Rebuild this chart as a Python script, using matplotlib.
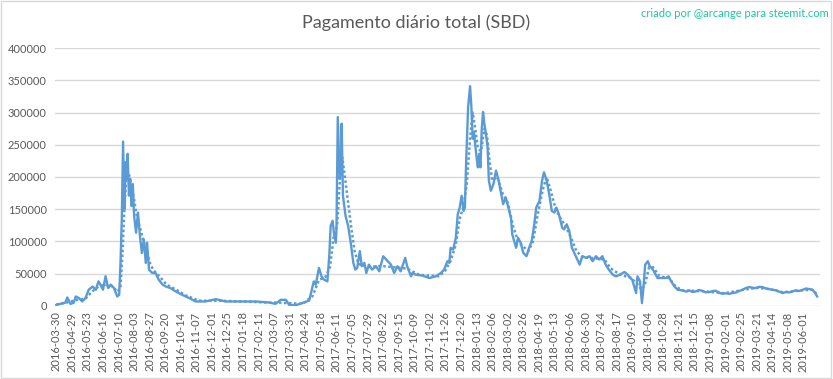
import numpy as np
import matplotlib.pyplot as plt
from matplotlib.patches import Rectangle
import datetime as dt

# Eixo de categorias: um rotulo a cada 24 dias
tick_labels = []
d0 = dt.date(2016, 4, 29)
tick_labels.append("2016-03-30")
for k in range(48):
    tick_labels.append((d0 + dt.timedelta(days=24 * k)).isoformat())
tick_pos = [24 * k for k in range(len(tick_labels))]

# Pagamento diario
dia = [0, 14, 17, 22, 27, 30, 35, 40, 45, 50, 56, 61, 65, 68, 72, 76, 80, 84, 89, 94,
       97, 99, 101, 103, 105, 107, 109, 110, 112, 114, 116, 118, 120, 123, 126, 129, 132, 135, 138, 140,
       143, 148, 153, 158, 164, 169, 176, 184, 194, 205, 215, 230, 246, 261, 282, 308, 328, 338, 346, 354,
       359, 369, 379, 390, 394, 397, 400, 405, 409, 413, 418, 421, 423, 426, 428, 431, 432, 434, 437, 439,
       440, 442, 446, 450, 454, 458, 461, 464, 468, 471, 475, 478, 482, 487, 493, 498, 504, 511, 516, 521,
       526, 531, 538, 541, 547, 549, 554, 565, 575, 585, 593, 598, 603, 606, 608, 612, 616, 619, 622, 625,
       628, 630, 632, 635, 638, 640, 642, 644, 646, 648, 650, 652, 654, 656, 658, 660, 662, 665, 667, 670,
       674, 678, 682, 685, 689, 693, 697, 701, 703, 706, 709, 712, 716, 720, 725, 729, 733, 737, 740, 745,
       749, 752, 756, 760, 764, 768, 771, 775, 780, 783, 787, 791, 795, 801, 807, 811, 817, 822, 827, 832,
       837, 842, 847, 852, 858, 863, 869, 876, 881, 885, 888, 894, 896, 900, 903, 905, 908, 912, 915, 920,
       927, 932, 940, 944, 948, 953, 958, 966, 971, 976, 981, 986, 991, 996, 1001, 1007, 1012, 1017, 1022, 1027,
       1032, 1038, 1043, 1048, 1053, 1058, 1063, 1068, 1074, 1079, 1084, 1089, 1094, 1099, 1104, 1110, 1115, 1120, 1125, 1130,
       1135, 1140, 1145, 1151, 1156, 1161, 1166, 1170, 1173]
pagamento = [1500, 5000, 13000, 3000, 5000, 14600, 12000, 6800, 12000, 25000, 30000, 25000, 38000, 33000, 25000, 46000, 27600, 33000, 27600, 14600,
             17000, 66000, 134000, 255000, 150000, 223000, 197000, 236000, 171000, 197000, 155000, 189000, 139600, 113500, 144800, 108000, 82000, 103000, 66600, 98000,
             56000, 51000, 51000, 40600, 32800, 30000, 27600, 22400, 17200, 12000, 6800, 6800, 10400, 6800, 6800, 6800, 5200, 3100, 9400, 9400,
             1600, 1000, 4200, 8300, 25000, 38000, 32800, 58800, 45800, 40600, 38000, 79700, 124000, 132000, 113500, 98000, 118700, 293000, 197000, 212500,
             282800, 170800, 139600, 124000, 98000, 66700, 56200, 58800, 85000, 61500, 66700, 51000, 64000, 56200, 61500, 53600, 77000, 69300, 64000, 51000,
             61500, 53600, 74500, 61500, 45800, 51000, 48400, 46900, 43200, 45800, 51000, 56200, 69300, 66700, 90100, 87500, 105700, 142000, 152600, 170800,
             147400, 152600, 225500, 308800, 341000, 308800, 259400, 269800, 249000, 230700, 215000, 236000, 215000, 275000, 301000, 282800, 269800, 246300, 194300, 178600,
             189000, 209900, 194300, 178600, 157800, 168200, 152600, 137000, 111000, 100500, 90100, 105700, 97900, 82300, 77100, 90100, 100500, 126600, 152600, 163000,
             194300, 207300, 194300, 173400, 147400, 144800, 152600, 142000, 121300, 118700, 126600, 116100, 90100, 77100, 64000, 77100, 74500, 77100, 69300, 77100,
             71900, 77100, 64000, 56200, 48400, 45800, 48400, 52600, 48400, 43200, 40600, 19800, 45800, 38000, 4200, 25000, 64000, 69300, 61500, 56200,
             43200, 43200, 43200, 45800, 38000, 30200, 25000, 24000, 22000, 24000, 21500, 22400, 24500, 23400, 21000, 21400, 23000, 23400, 20500, 18700,
             19500, 18700, 20000, 20800, 23000, 25000, 27500, 29100, 28000, 27600, 29500, 29100, 27000, 26000, 25000, 24000, 22000, 19800, 21500, 20800,
             22500, 24000, 23000, 25000, 27000, 26000, 25000, 19800, 14600]

# Media movel (linha pontilhada)
dia_mm = [0, 20, 30, 45, 55, 65, 75, 85, 95, 99, 102, 105, 108, 112, 116, 120, 124, 128, 132, 136,
          140, 145, 150, 160, 170, 185, 200, 220, 250, 280, 330, 345, 360, 380, 395, 405, 415, 422, 428, 433,
          437, 441, 445, 450, 455, 460, 466, 480, 500, 520, 540, 560, 590, 600, 608, 616, 622, 628, 633, 638,
          642, 646, 650, 655, 660, 664, 668, 672, 680, 688, 696, 704, 712, 720, 728, 735, 742, 750, 756, 762,
          770, 778, 786, 794, 802, 812, 830, 845, 855, 870, 885, 895, 903, 908, 914, 920, 930, 945, 955, 965,
          1000, 1030, 1060, 1080, 1100, 1120, 1150, 1165, 1173]
media_movel = [2000, 6000, 9000, 11000, 22000, 30000, 33000, 31000, 22000, 30000, 80000, 150000, 200000, 205000, 185000, 165000, 140000, 125000, 110000, 95000,
               82000, 65000, 55000, 45000, 33000, 25000, 16000, 8000, 8000, 7000, 5000, 5000, 4000, 3000, 15000, 40000, 45000, 60000, 110000, 125000,
               190000, 230000, 200000, 160000, 120000, 85000, 65000, 60000, 62000, 60000, 58000, 48000, 46000, 55000, 70000, 95000, 135000, 155000, 190000, 260000,
               300000, 275000, 245000, 240000, 275000, 265000, 225000, 195000, 200000, 175000, 160000, 125000, 100000, 92000, 85000, 100000, 140000, 180000, 200000, 180000,
               150000, 135000, 122000, 105000, 85000, 75000, 74000, 72000, 58000, 48000, 44000, 35000, 25000, 35000, 60000, 60000, 46000, 43000, 30000, 24000,
               22500, 19500, 25000, 28000, 26000, 21000, 24000, 25000, 18000]

azul = "#5B9BD5"

plt.rcParams['font.family'] = ['Lato', 'DejaVu Sans']
fig = plt.figure(figsize=(8.33, 3.79), dpi=100)
ax = fig.add_axes([0.066, 0.193, 0.918, 0.680])

ax.plot(dia_mm, media_movel, color=azul, lw=1.8, ls=(0, (1, 1)))
ax.plot(dia, pagamento, color=azul, lw=1.7)

ax.set_xlim(-2, 1177)
ax.set_ylim(0, 400000)
ax.set_yticks(np.arange(0, 400001, 50000))
ax.set_yticklabels([str(v) for v in range(0, 400001, 50000)])
ax.set_xticks(tick_pos)
ax.set_xticklabels(tick_labels, rotation=90)
ax.tick_params(axis='both', length=0, labelsize=8, labelcolor="#595959")
ax.tick_params(axis='x', pad=4)
ax.tick_params(axis='y', pad=6)
ax.grid(axis='y', color="#D9D9D9", lw=1)
ax.set_axisbelow(True)
for s in ax.spines.values():
    s.set_visible(False)

fig.text(0.5, 0.94, "Pagamento diário total (SBD)", ha='center', va='center',
         fontsize=13, color="#595959")
fig.text(0.995, 0.965, "criado por @arcange para steemit.com", ha='right', va='center',
         fontsize=8, color="#1FC6A0")

fig.add_artist(Rectangle((0.001, 0.002), 0.997, 0.995, transform=fig.transFigure,
                         fill=False, edgecolor="#D9D9D9", lw=1))

fig.savefig("out.png", dpi=100)
